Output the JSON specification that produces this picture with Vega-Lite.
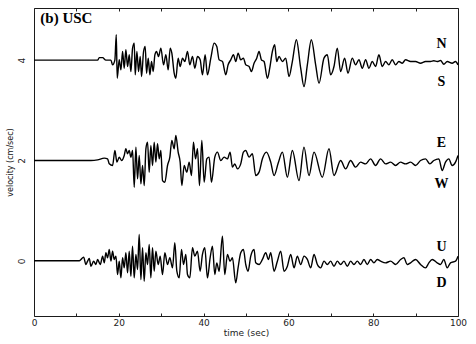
{
"$schema": "https://vega.github.io/schema/vega-lite/v6.json",
"width": 424, "height": 308,
"autosize": {"type": "none"},
"padding": {"left": 34, "top": 8, "right": 18, "bottom": 28},
"background": "white",
"config": {"view": {"stroke": "#1a1a1a", "strokeWidth": 1}, "axis": {"grid": false, "domain": false, "labelFont": "DejaVu Sans", "titleFont": "DejaVu Sans", "labelColor": "#222", "titleColor": "#222", "titleFontWeight": "normal", "labelFontSize": 9, "titleFontSize": 9, "tickColor": "#222"}},
"datasets": {
"traces": [
{"c":"NS","t":0,"v":4},{"c":"NS","t":5,"v":4},{"c":"NS","t":10,"v":4},{"c":"NS","t":13.43,"v":4},{"c":"NS","t":15.0,"v":4},{"c":"NS","t":15.39,"v":4.05},{"c":"NS","t":16.18,"v":4.05},{"c":"NS","t":16.96,"v":4},{"c":"NS","t":18.14,"v":4},{"c":"NS","t":18.53,"v":3.907},{"c":"NS","t":19.08,"v":4.007},{"c":"NS","t":19.40,"v":4.507},{"c":"NS","t":19.63,"v":3.64},{"c":"NS","t":20.10,"v":4.007},{"c":"NS","t":20.50,"v":3.807},{"c":"NS","t":20.89,"v":4.173},{"c":"NS","t":21.28,"v":3.84},{"c":"NS","t":21.67,"v":4.207},{"c":"NS","t":22.07,"v":3.873},{"c":"NS","t":22.46,"v":4.107},{"c":"NS","t":22.85,"v":3.773},{"c":"NS","t":23.25,"v":4.24},{"c":"NS","t":23.64,"v":4.34},{"c":"NS","t":23.87,"v":3.707},{"c":"NS","t":24.27,"v":4.173},{"c":"NS","t":24.66,"v":3.773},{"c":"NS","t":25.05,"v":4.073},{"c":"NS","t":25.37,"v":3.673},{"c":"NS","t":25.84,"v":4.173},{"c":"NS","t":26.23,"v":4.273},{"c":"NS","t":26.54,"v":3.74},{"c":"NS","t":26.94,"v":4.04},{"c":"NS","t":27.33,"v":3.707},{"c":"NS","t":27.72,"v":3.973},{"c":"NS","t":28.11,"v":3.773},{"c":"NS","t":28.51,"v":4.107},{"c":"NS","t":28.90,"v":4.173},{"c":"NS","t":29.37,"v":4.073},{"c":"NS","t":29.92,"v":4.24},{"c":"NS","t":30.55,"v":3.907},{"c":"NS","t":31.10,"v":4.107},{"c":"NS","t":31.65,"v":3.807},{"c":"NS","t":32.12,"v":4.24},{"c":"NS","t":32.51,"v":4.14},{"c":"NS","t":33.06,"v":3.74},{"c":"NS","t":33.45,"v":3.64},{"c":"NS","t":34.0,"v":4.04},{"c":"NS","t":34.47,"v":3.873},{"c":"NS","t":35.02,"v":4.04},{"c":"NS","t":35.57,"v":3.973},{"c":"NS","t":36.20,"v":4.173},{"c":"NS","t":36.75,"v":3.907},{"c":"NS","t":37.38,"v":4.073},{"c":"NS","t":37.93,"v":3.84},{"c":"NS","t":38.56,"v":4.073},{"c":"NS","t":39.19,"v":4.007},{"c":"NS","t":39.73,"v":3.707},{"c":"NS","t":40.36,"v":4.107},{"c":"NS","t":40.91,"v":3.707},{"c":"NS","t":41.70,"v":4.04},{"c":"NS","t":42.48,"v":4.34},{"c":"NS","t":43.11,"v":4.273},{"c":"NS","t":43.66,"v":4.007},{"c":"NS","t":44.45,"v":3.973},{"c":"NS","t":45.23,"v":3.707},{"c":"NS","t":45.78,"v":3.907},{"c":"NS","t":46.41,"v":4.007},{"c":"NS","t":47.04,"v":4.107},{"c":"NS","t":47.59,"v":3.973},{"c":"NS","t":48.14,"v":4.14},{"c":"NS","t":48.76,"v":4.007},{"c":"NS","t":49.39,"v":4.04},{"c":"NS","t":49.94,"v":3.907},{"c":"NS","t":50.73,"v":3.873},{"c":"NS","t":51.28,"v":3.773},{"c":"NS","t":51.90,"v":3.94},{"c":"NS","t":52.53,"v":4.04},{"c":"NS","t":53.08,"v":4.173},{"c":"NS","t":53.63,"v":4.007},{"c":"NS","t":54.26,"v":3.973},{"c":"NS","t":55.05,"v":3.64},{"c":"NS","t":55.60,"v":3.84},{"c":"NS","t":56.22,"v":4.173},{"c":"NS","t":56.77,"v":4.307},{"c":"NS","t":57.24,"v":3.973},{"c":"NS","t":57.79,"v":4.073},{"c":"NS","t":58.58,"v":3.973},{"c":"NS","t":59.36,"v":4.04},{"c":"NS","t":60.15,"v":3.673},{"c":"NS","t":60.93,"v":3.973},{"c":"NS","t":61.88,"v":4.407},{"c":"NS","t":62.90,"v":3.84},{"c":"NS","t":63.68,"v":3.473},{"c":"NS","t":64.47,"v":3.907},{"c":"NS","t":65.41,"v":4.407},{"c":"NS","t":66.43,"v":3.907},{"c":"NS","t":67.22,"v":3.54},{"c":"NS","t":68.39,"v":4.04},{"c":"NS","t":69.18,"v":4.107},{"c":"NS","t":69.96,"v":3.707},{"c":"NS","t":70.75,"v":3.873},{"c":"NS","t":71.53,"v":4.24},{"c":"NS","t":72.32,"v":3.773},{"c":"NS","t":73.26,"v":4.04},{"c":"NS","t":74.05,"v":3.74},{"c":"NS","t":75.07,"v":4.04},{"c":"NS","t":75.85,"v":3.907},{"c":"NS","t":76.64,"v":4.007},{"c":"NS","t":77.42,"v":3.84},{"c":"NS","t":78.21,"v":4.007},{"c":"NS","t":78.99,"v":3.84},{"c":"NS","t":79.78,"v":3.973},{"c":"NS","t":80.56,"v":3.873},{"c":"NS","t":81.35,"v":4.107},{"c":"NS","t":82.13,"v":3.873},{"c":"NS","t":82.92,"v":3.973},{"c":"NS","t":83.70,"v":3.907},{"c":"NS","t":84.49,"v":4.007},{"c":"NS","t":85.28,"v":3.907},{"c":"NS","t":86.06,"v":3.973},{"c":"NS","t":86.85,"v":3.94},{"c":"NS","t":87.63,"v":4.007},{"c":"NS","t":88.81,"v":3.973},{"c":"NS","t":89.99,"v":3.973},{"c":"NS","t":91.16,"v":3.94},{"c":"NS","t":92.34,"v":3.973},{"c":"NS","t":93.52,"v":3.973},{"c":"NS","t":94.30,"v":3.987},{"c":"NS","t":95.09,"v":3.973},{"c":"NS","t":95.88,"v":3.993},{"c":"NS","t":96.66,"v":3.92},{"c":"NS","t":97.45,"v":3.973},{"c":"NS","t":98.62,"v":3.94},{"c":"NS","t":99.41,"v":3.973},{"c":"NS","t":100,"v":3.907},
{"c":"EW","t":0,"v":2},{"c":"EW","t":10,"v":2},{"c":"EW","t":13.43,"v":2},{"c":"EW","t":15.0,"v":2.013},{"c":"EW","t":16.57,"v":2.047},{"c":"EW","t":17.36,"v":2.033},{"c":"EW","t":17.75,"v":1.933},{"c":"EW","t":18.53,"v":1.9},{"c":"EW","t":19.08,"v":2.2},{"c":"EW","t":19.56,"v":1.967},{"c":"EW","t":20.10,"v":2.067},{"c":"EW","t":20.65,"v":2.0},{"c":"EW","t":21.28,"v":2.1},{"c":"EW","t":21.67,"v":2.233},{"c":"EW","t":22.07,"v":2.133},{"c":"EW","t":22.46,"v":2.2},{"c":"EW","t":22.85,"v":2.067},{"c":"EW","t":23.25,"v":2.2},{"c":"EW","t":23.64,"v":1.467},{"c":"EW","t":24.03,"v":2.267},{"c":"EW","t":24.42,"v":1.633},{"c":"EW","t":24.82,"v":2.1},{"c":"EW","t":25.21,"v":1.533},{"c":"EW","t":25.60,"v":1.9},{"c":"EW","t":26.0,"v":1.5},{"c":"EW","t":26.39,"v":2.233},{"c":"EW","t":26.78,"v":2.367},{"c":"EW","t":27.17,"v":1.767},{"c":"EW","t":27.56,"v":2.3},{"c":"EW","t":27.96,"v":1.9},{"c":"EW","t":28.35,"v":2.367},{"c":"EW","t":28.74,"v":1.967},{"c":"EW","t":29.13,"v":2.333},{"c":"EW","t":29.53,"v":2.033},{"c":"EW","t":29.92,"v":2.2},{"c":"EW","t":30.31,"v":1.6},{"c":"EW","t":30.86,"v":1.567},{"c":"EW","t":31.49,"v":1.9},{"c":"EW","t":32.04,"v":2.067},{"c":"EW","t":32.51,"v":2.4},{"c":"EW","t":33.06,"v":2.233},{"c":"EW","t":33.45,"v":2.5},{"c":"EW","t":34.0,"v":2.167},{"c":"EW","t":34.47,"v":1.967},{"c":"EW","t":34.87,"v":1.5},{"c":"EW","t":35.42,"v":1.9},{"c":"EW","t":36.04,"v":1.767},{"c":"EW","t":36.59,"v":1.967},{"c":"EW","t":37.14,"v":1.7},{"c":"EW","t":37.61,"v":2.367},{"c":"EW","t":38.09,"v":2.033},{"c":"EW","t":38.56,"v":2.233},{"c":"EW","t":39.03,"v":1.5},{"c":"EW","t":39.58,"v":2.4},{"c":"EW","t":40.13,"v":1.567},{"c":"EW","t":40.75,"v":2.033},{"c":"EW","t":41.30,"v":2.067},{"c":"EW","t":41.85,"v":1.567},{"c":"EW","t":42.64,"v":2.067},{"c":"EW","t":43.27,"v":2.167},{"c":"EW","t":44.05,"v":2.0},{"c":"EW","t":44.84,"v":2.067},{"c":"EW","t":45.62,"v":2.033},{"c":"EW","t":46.25,"v":2.167},{"c":"EW","t":46.80,"v":1.867},{"c":"EW","t":47.35,"v":1.933},{"c":"EW","t":47.98,"v":1.833},{"c":"EW","t":48.76,"v":1.933},{"c":"EW","t":49.39,"v":2.167},{"c":"EW","t":49.94,"v":2.2},{"c":"EW","t":50.73,"v":2.067},{"c":"EW","t":51.51,"v":2.133},{"c":"EW","t":52.30,"v":1.7},{"c":"EW","t":53.08,"v":1.767},{"c":"EW","t":53.87,"v":2.033},{"c":"EW","t":54.81,"v":2.167},{"c":"EW","t":55.83,"v":1.967},{"c":"EW","t":56.62,"v":1.7},{"c":"EW","t":57.6,"v":1.95},{"c":"EW","t":58.58,"v":2.167},{"c":"EW","t":59.76,"v":1.667},{"c":"EW","t":60.93,"v":2.2},{"c":"EW","t":62.50,"v":1.6},{"c":"EW","t":63.68,"v":2.267},{"c":"EW","t":64.86,"v":1.7},{"c":"EW","t":66.04,"v":2.167},{"c":"EW","t":68.0,"v":1.667},{"c":"EW","t":69.57,"v":2.233},{"c":"EW","t":70.75,"v":1.7},{"c":"EW","t":72.32,"v":2.0},{"c":"EW","t":73.50,"v":1.833},{"c":"EW","t":74.67,"v":2.0},{"c":"EW","t":75.85,"v":1.867},{"c":"EW","t":77.03,"v":1.967},{"c":"EW","t":78.21,"v":1.933},{"c":"EW","t":79.39,"v":2.033},{"c":"EW","t":80.56,"v":1.9},{"c":"EW","t":81.74,"v":2.033},{"c":"EW","t":82.92,"v":1.933},{"c":"EW","t":84.10,"v":1.967},{"c":"EW","t":85.28,"v":1.9},{"c":"EW","t":86.45,"v":1.967},{"c":"EW","t":87.63,"v":1.933},{"c":"EW","t":88.81,"v":1.967},{"c":"EW","t":89.99,"v":1.9},{"c":"EW","t":91.16,"v":2.0},{"c":"EW","t":92.34,"v":2.033},{"c":"EW","t":93.36,"v":1.933},{"c":"EW","t":94.30,"v":2.0},{"c":"EW","t":95.48,"v":2.033},{"c":"EW","t":96.27,"v":1.8},{"c":"EW","t":97.05,"v":1.967},{"c":"EW","t":97.84,"v":2.033},{"c":"EW","t":98.62,"v":1.9},{"c":"EW","t":99.41,"v":1.967},{"c":"EW","t":100,"v":2.1},
{"c":"UD","t":0,"v":0},{"c":"UD","t":5,"v":0},{"c":"UD","t":8.72,"v":0},{"c":"UD","t":10.68,"v":0},{"c":"UD","t":11.07,"v":0.027},{"c":"UD","t":11.70,"v":0.073},{"c":"UD","t":12.25,"v":-0.073},{"c":"UD","t":12.64,"v":-0.007},{"c":"UD","t":13.03,"v":0.047},{"c":"UD","t":13.43,"v":-0.107},{"c":"UD","t":14.06,"v":-0.007},{"c":"UD","t":14.61,"v":-0.073},{"c":"UD","t":15.0,"v":0.027},{"c":"UD","t":15.63,"v":-0.073},{"c":"UD","t":16.18,"v":0.093},{"c":"UD","t":16.57,"v":-0.04},{"c":"UD","t":16.96,"v":0.16},{"c":"UD","t":17.35,"v":0.06},{"c":"UD","t":17.75,"v":0.227},{"c":"UD","t":18.14,"v":-0.007},{"c":"UD","t":18.53,"v":0.193},{"c":"UD","t":18.92,"v":0.027},{"c":"UD","t":19.32,"v":0.093},{"c":"UD","t":19.71,"v":-0.273},{"c":"UD","t":20.10,"v":-0.007},{"c":"UD","t":20.49,"v":-0.34},{"c":"UD","t":20.89,"v":0.06},{"c":"UD","t":21.28,"v":-0.14},{"c":"UD","t":21.67,"v":0.16},{"c":"UD","t":22.06,"v":-0.24},{"c":"UD","t":22.46,"v":0.193},{"c":"UD","t":22.85,"v":-0.307},{"c":"UD","t":23.24,"v":0.293},{"c":"UD","t":23.63,"v":-0.34},{"c":"UD","t":24.03,"v":0.127},{"c":"UD","t":24.42,"v":-0.173},{"c":"UD","t":24.81,"v":0.527},{"c":"UD","t":25.21,"v":-0.373},{"c":"UD","t":25.60,"v":0.26},{"c":"UD","t":25.99,"v":-0.407},{"c":"UD","t":26.38,"v":0.16},{"c":"UD","t":26.78,"v":-0.073},{"c":"UD","t":27.17,"v":0.327},{"c":"UD","t":27.56,"v":-0.34},{"c":"UD","t":27.95,"v":0.26},{"c":"UD","t":28.35,"v":-0.207},{"c":"UD","t":28.74,"v":0.193},{"c":"UD","t":29.29,"v":-0.073},{"c":"UD","t":29.76,"v":0.093},{"c":"UD","t":30.31,"v":-0.273},{"c":"UD","t":30.86,"v":0.16},{"c":"UD","t":31.49,"v":-0.073},{"c":"UD","t":32.04,"v":0.06},{"c":"UD","t":32.67,"v":-0.14},{"c":"UD","t":33.21,"v":0.36},{"c":"UD","t":33.69,"v":-0.207},{"c":"UD","t":34.24,"v":-0.34},{"c":"UD","t":34.79,"v":0.227},{"c":"UD","t":35.26,"v":-0.073},{"c":"UD","t":35.81,"v":0.127},{"c":"UD","t":36.20,"v":-0.273},{"c":"UD","t":36.75,"v":-0.34},{"c":"UD","t":37.38,"v":0.26},{"c":"UD","t":37.92,"v":0.093},{"c":"UD","t":38.55,"v":0.193},{"c":"UD","t":39.18,"v":-0.207},{"c":"UD","t":39.73,"v":0.127},{"c":"UD","t":40.28,"v":0.26},{"c":"UD","t":40.91,"v":-0.34},{"c":"UD","t":41.54,"v":0.06},{"c":"UD","t":42.09,"v":0.293},{"c":"UD","t":42.64,"v":-0.273},{"c":"UD","t":43.11,"v":-0.04},{"c":"UD","t":43.66,"v":-0.207},{"c":"UD","t":44.44,"v":0.493},{"c":"UD","t":44.99,"v":-0.273},{"c":"UD","t":45.62,"v":0.127},{"c":"UD","t":46.25,"v":-0.007},{"c":"UD","t":46.80,"v":0.06},{"c":"UD","t":47.58,"v":-0.44},{"c":"UD","t":48.13,"v":-0.14},{"c":"UD","t":48.76,"v":0.16},{"c":"UD","t":49.39,"v":0.227},{"c":"UD","t":49.94,"v":-0.073},{"c":"UD","t":50.49,"v":-0.207},{"c":"UD","t":51.12,"v":0.093},{"c":"UD","t":51.90,"v":0.227},{"c":"UD","t":52.29,"v":-0.04},{"c":"UD","t":53.09,"v":-0.073},{"c":"UD","t":53.87,"v":0.027},{"c":"UD","t":54.66,"v":0.16},{"c":"UD","t":55.28,"v":0.027},{"c":"UD","t":55.83,"v":0.16},{"c":"UD","t":56.62,"v":-0.207},{"c":"UD","t":57.40,"v":-0.007},{"c":"UD","t":58.19,"v":0.193},{"c":"UD","t":58.97,"v":-0.207},{"c":"UD","t":59.76,"v":-0.107},{"c":"UD","t":60.54,"v":0.127},{"c":"UD","t":61.33,"v":-0.14},{"c":"UD","t":62.11,"v":0.093},{"c":"UD","t":62.90,"v":-0.073},{"c":"UD","t":63.69,"v":0.093},{"c":"UD","t":64.47,"v":0.027},{"c":"UD","t":65.26,"v":-0.14},{"c":"UD","t":66.04,"v":0.127},{"c":"UD","t":66.83,"v":-0.073},{"c":"UD","t":67.61,"v":-0.14},{"c":"UD","t":68.40,"v":-0.007},{"c":"UD","t":69.18,"v":-0.073},{"c":"UD","t":69.97,"v":-0.007},{"c":"UD","t":70.75,"v":-0.107},{"c":"UD","t":71.54,"v":-0.007},{"c":"UD","t":72.32,"v":-0.073},{"c":"UD","t":73.11,"v":-0.007},{"c":"UD","t":73.89,"v":-0.107},{"c":"UD","t":74.68,"v":-0.007},{"c":"UD","t":75.46,"v":-0.073},{"c":"UD","t":76.25,"v":-0.007},{"c":"UD","t":77.03,"v":-0.073},{"c":"UD","t":77.82,"v":0.027},{"c":"UD","t":78.60,"v":-0.073},{"c":"UD","t":79.39,"v":0.027},{"c":"UD","t":80.17,"v":-0.04},{"c":"UD","t":80.96,"v":0.027},{"c":"UD","t":81.75,"v":-0.007},{"c":"UD","t":82.92,"v":-0.04},{"c":"UD","t":84.10,"v":-0.007},{"c":"UD","t":85.28,"v":-0.073},{"c":"UD","t":86.46,"v":0.027},{"c":"UD","t":87.24,"v":0.06},{"c":"UD","t":88.03,"v":-0.073},{"c":"UD","t":88.81,"v":-0.04},{"c":"UD","t":89.99,"v":0.027},{"c":"UD","t":91.17,"v":-0.073},{"c":"UD","t":92.35,"v":-0.14},{"c":"UD","t":93.13,"v":-0.04},{"c":"UD","t":93.92,"v":0.027},{"c":"UD","t":95.09,"v":-0.04},{"c":"UD","t":95.88,"v":-0.073},{"c":"UD","t":96.66,"v":0.027},{"c":"UD","t":97.45,"v":-0.14},{"c":"UD","t":98.23,"v":-0.04},{"c":"UD","t":99.41,"v":-0.007},{"c":"UD","t":100,"v":0.093}
],
"heading": [{"label": "(b) USC", "t": 1.5, "v": 4.84}],
"comps": [{"label":"N","t":96.1,"v":4.32},{"label":"S","t":96.1,"v":3.56},{"label":"E","t":96.1,"v":2.34},{"label":"W","t":96.1,"v":1.54},{"label":"U","t":96.1,"v":0.28},{"label":"D","t":96.1,"v":-0.44}]
},
"resolve": {"axis": {"x": "independent"}},
"layer": [
{"data": {"name": "traces"},
 "mark": {"type": "line", "color": "black", "strokeWidth": 1.4, "interpolate": "monotone"},
 "encoding": {
  "x": {"field": "t", "type": "quantitative", "scale": {"domain": [0, 100], "nice": false}, "axis": {"values": [0,10,20,30,40,50,60,70,80,90,100], "labelExpr": "datum.value % 20 === 0 ? datum.label : ''", "tickSize": -3, "labelPadding": 5, "title": "time (sec)", "titlePadding": 1, "labelFlush": false}},
  "y": {"field": "v", "type": "quantitative", "scale": {"domain": [-1.1, 5.04], "nice": false, "zero": false}, "axis": {"values": [0, 2, 4], "labelAngle": 270, "labelAlign": "center", "labelBaseline": "bottom", "ticks": false, "labelPadding": 8, "title": "velocity (cm/sec)", "titlePadding": 3, "titleFontSize": 8, "titleColor": "#111"}},
  "detail": {"field": "c"}
 }},
{"data": {"name": "heading"},
 "mark": {"type": "text", "font": "Liberation Serif", "fontWeight": "bold", "fontSize": 15, "align": "left", "baseline": "middle", "color": "black"},
 "encoding": {
  "x": {"field": "t", "type": "quantitative", "axis": null},
  "y": {"field": "v", "type": "quantitative"},
  "text": {"field": "label"}
 }},
{"data": {"name": "comps"},
 "mark": {"type": "text", "font": "Liberation Serif", "fontWeight": "bold", "fontSize": 14, "align": "center", "baseline": "middle", "color": "black"},
 "encoding": {
  "x": {"field": "t", "type": "quantitative", "axis": {"orient": "top", "values": [0,10,20,30,40,50,60,70,80,90,100], "labels": false, "tickSize": -3, "title": null}},
  "y": {"field": "v", "type": "quantitative"},
  "text": {"field": "label"}
 }}
]
}
